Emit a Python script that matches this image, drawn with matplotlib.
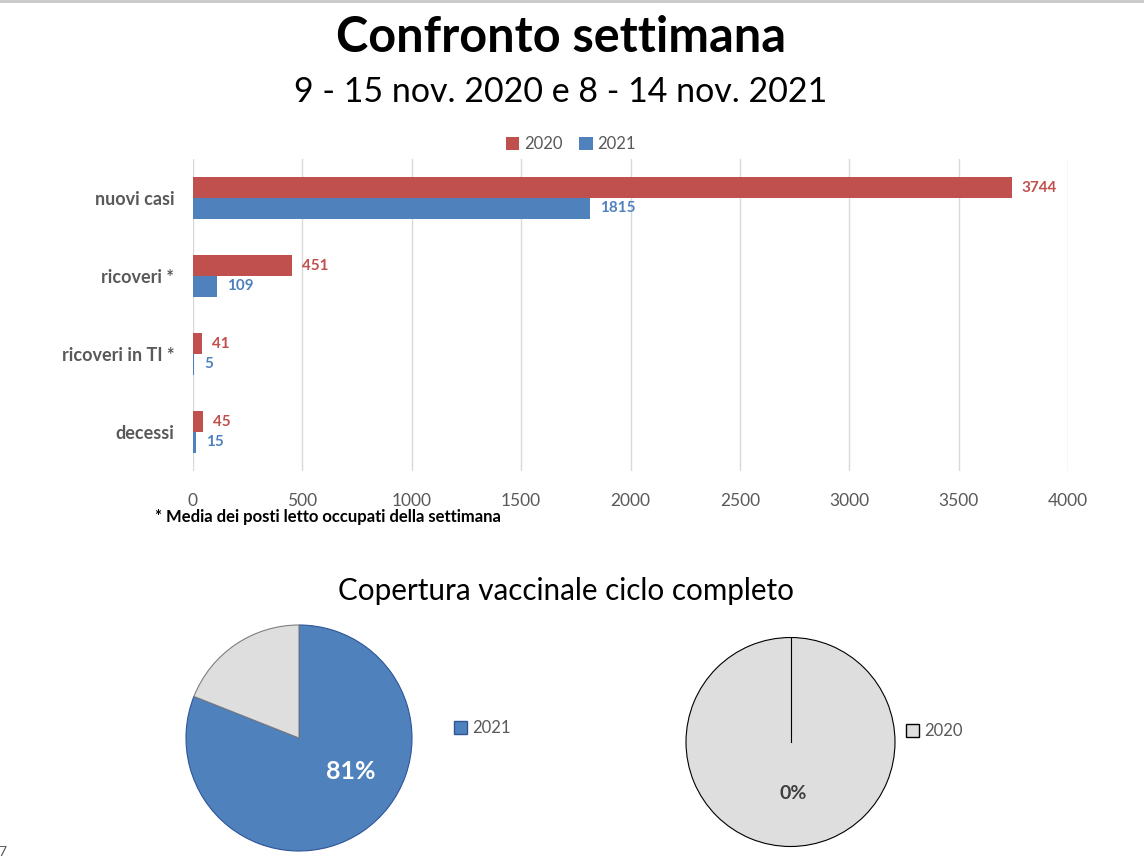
import matplotlib.pyplot as plt
from matplotlib.patches import Patch
from matplotlib.lines import Line2D
import numpy as np

plt.rcParams['font.family'] = ['Lato', 'DejaVu Sans']

# data
categories = ['nuovi casi', 'ricoveri *', 'ricoveri in TI *', 'decessi']
values_2020 = [3744, 451, 41, 45]
values_2021 = [1815, 109, 5, 15]
x_ticks = [0, 500, 1000, 1500, 2000, 2500, 3000, 3500, 4000]

coverage_2021 = [81, 19]   # vaccinated, not vaccinated (%)
coverage_2020 = [0, 100]

RED = '#C0504D'
BLUE = '#4F81BD'
GREY = '#DEDEDE'
TXT = '#595959'

W, H = 1144, 866
fig = plt.figure(figsize=(W / 100, H / 100), dpi=100)


def px_axes(left, top, right, bottom):
    """ axes from pixel box (origin top-left) """
    return fig.add_axes([left / W, 1 - bottom / H, (right - left) / W, (bottom - top) / H])


def fx(x):
    return x / W


def fy(y):
    return 1 - y / H


# top border line
fig.add_artist(Line2D([0, 1], [fy(0.5), fy(0.5)], color='#C8C8C8', lw=2))

fig.text(fx(561), fy(38), 'Confronto settimana', ha='center', va='center',
         fontsize=35, fontweight='bold', color='black')
fig.text(fx(561), fy(92), '9 - 15 nov. 2020 e 8 - 14 nov. 2021', ha='center', va='center',
         fontsize=24.5, color='black')

# bar chart
ax = px_axes(193, 159, 1068, 471)
y = np.arange(len(categories))
h = 0.263
ax.barh(y - h / 2, values_2020, height=h, color=RED, label='2020')
ax.barh(y + h / 2, values_2021, height=h, color=BLUE, label='2021')
for i in range(len(categories)):
    ax.text(values_2020[i] + 45, y[i] - h / 2, str(values_2020[i]), va='center', ha='left',
            color=RED, fontsize=11, fontweight='bold')
    ax.text(values_2021[i] + 45, y[i] + h / 2, str(values_2021[i]), va='center', ha='left',
            color=BLUE, fontsize=11, fontweight='bold')
ax.set_xlim(0, 4000)
ax.set_ylim(len(categories) - 0.5, -0.5)
ax.set_xticks(x_ticks)
ax.set_xticklabels([str(t) for t in x_ticks], fontsize=12.5, color=TXT)
ax.set_yticks(y)
ax.set_yticklabels(categories, fontsize=13, fontweight='bold', color=TXT)
ax.tick_params(axis='both', length=0)
ax.tick_params(axis='x', pad=16)
ax.tick_params(axis='y', pad=13.5)
ax.grid(axis='x', color='#D9D9D9', lw=1)
ax.set_axisbelow(True)
for s in ax.spines.values():
    s.set_visible(False)
ax.legend(loc='center', bbox_to_anchor=(fx(571), fy(144)), bbox_transform=fig.transFigure,
          ncol=2, frameon=False, fontsize=12, handlelength=0.8, handleheight=0.8,
          handletextpad=0.3, columnspacing=1.0, labelcolor=TXT)

fig.text(fx(155), fy(517), '* Media dei posti letto occupati della settimana', ha='left', va='center',
         fontsize=12, fontweight='bold', color='black')

# pies
fig.text(fx(566), fy(591), 'Copertura vaccinale ciclo completo', ha='center', va='center',
         fontsize=21.3, color='black')

ax1 = px_axes(186, 625, 412, 851)
w1, _ = ax1.pie(coverage_2021, colors=[BLUE, GREY], startangle=90, counterclock=False,
                wedgeprops=dict(linewidth=0.8))
w1[0].set_edgecolor('#2F5597')
w1[1].set_edgecolor('#7F7F7F')
ax1.set_xlim(-1, 1)
ax1.set_ylim(-1, 1)
ax1.text(0.46, -0.30, f'{coverage_2021[0]}%', ha='center', va='center', color='white',
         fontsize=18, fontweight='bold')
fig.legend(handles=[Patch(facecolor=BLUE, edgecolor='#2F5597')], labels=['2021'],
           loc='center left', bbox_to_anchor=(fx(439), fy(728)), frameon=False, fontsize=12,
           handlelength=0.8, handleheight=0.8, handletextpad=0.3, labelcolor=TXT)

ax2 = px_axes(686, 637, 895, 847)
w2, _ = ax2.pie(coverage_2020, colors=[BLUE, GREY], startangle=90, counterclock=False,
                wedgeprops=dict(linewidth=0.8, edgecolor='black'))
ang = np.deg2rad(90)
ax2.plot([0, np.cos(ang)], [0, np.sin(ang)], color='black', lw=0.8)
ax2.set_xlim(-1, 1)
ax2.set_ylim(-1, 1)
ax2.text(0.03, -0.49, f'{coverage_2020[0]}%', ha='center', va='center', color='#404040',
         fontsize=14, fontweight='bold')
fig.legend(handles=[Patch(facecolor=GREY, edgecolor='black')], labels=['2020'],
           loc='center left', bbox_to_anchor=(fx(891), fy(731)), frameon=False, fontsize=12,
           handlelength=0.8, handleheight=0.8, handletextpad=0.3, labelcolor=TXT)

fig.text(fx(-2), fy(852), '7', ha='left', va='center', fontsize=10, color=TXT)

fig.savefig('out.png', dpi=100)
